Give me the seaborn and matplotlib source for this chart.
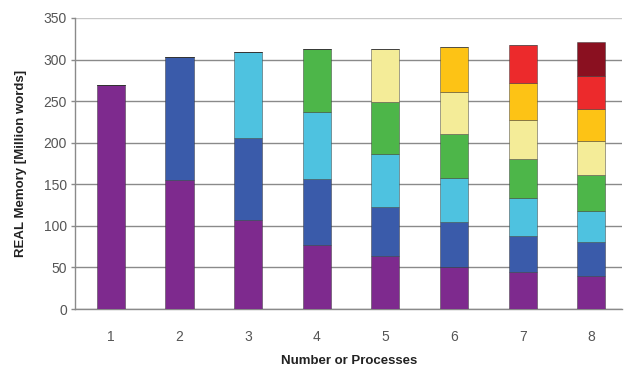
import matplotlib
matplotlib.use("Agg")
import matplotlib.pyplot as plt
import pandas as pd
import seaborn as sns

# Memory used by each rank (million words) for runs with 1..8 processes
processes = [1, 2, 3, 4, 5, 6, 7, 8]
mem_1 = [269]
mem_2 = [155, 148]
mem_3 = [107, 99, 103]
mem_4 = [77, 79, 81, 76]
mem_5 = [64, 59, 64, 62, 64]
mem_6 = [51, 54, 52, 53, 51, 54]
mem_7 = [44, 44, 46, 47, 46, 45, 46]
mem_8 = [40, 40, 38, 43, 41, 38, 40, 41]
runs = [mem_1, mem_2, mem_3, mem_4, mem_5, mem_6, mem_7, mem_8]

rank_colors = ["#7E2A8E", "#3A5BAA", "#4EC2E0", "#4DB649",
               "#F4EC98", "#FDC315", "#EC2A2C", "#8A1020"]

rows = []
for n, mems in zip(processes, runs):
    for rank, m in enumerate(mems, start=1):
        rows.append({"procs": n, "rank": rank, "mem": m})
df = pd.DataFrame(rows)

sns.set_theme(style="white")
plt.rcParams["font.family"] = ["Liberation Sans", "DejaVu Sans"]

fig = plt.figure(figsize=(6.26, 3.67), dpi=100)
ax = fig.add_axes([0.12, 0.158, 0.874, 0.793])

ranks = list(range(1, 9))
sns.histplot(data=df, x="procs", weights="mem", hue="rank",
             hue_order=ranks[::-1], palette=dict(zip(ranks, rank_colors)),
             multiple="stack", discrete=True, shrink=0.41, alpha=1,
             edgecolor=(0.2, 0.2, 0.2, 0.45), linewidth=0.7,
             legend=False, ax=ax, zorder=3)

ax.set_xlim(0.48, 8.45)
ax.set_ylim(0, 350)
ax.set_yticks(range(0, 351, 50))
ax.set_xticks(processes)
ax.yaxis.grid(True, color="#8a8a8a", linewidth=1.0, zorder=0)
ax.set_axisbelow(True)
# lighter top gridline at the plot ceiling
ax.get_ygridlines()[-1].set_color("#c8c8c8")

for side in ("top", "right"):
    ax.spines[side].set_visible(False)
for side in ("left", "bottom"):
    ax.spines[side].set_color("#8a8a8a")
    ax.spines[side].set_linewidth(1.0)

ax.tick_params(axis="y", which="major", left=True, length=3, width=1,
               color="#8a8a8a", labelsize=10, labelcolor="#555555", pad=3)
ax.tick_params(axis="x", which="major", bottom=False, labelsize=10,
               labelcolor="#555555", pad=9)

ax.set_xlabel("Number or Processes", fontsize=9.5, fontweight="bold",
              color="#222222", labelpad=8)
ax.set_ylabel("REAL Memory [Million words]", fontsize=9.5, fontweight="bold",
              color="#222222", labelpad=12)

fig.savefig("out.png", dpi=100, facecolor="white")
